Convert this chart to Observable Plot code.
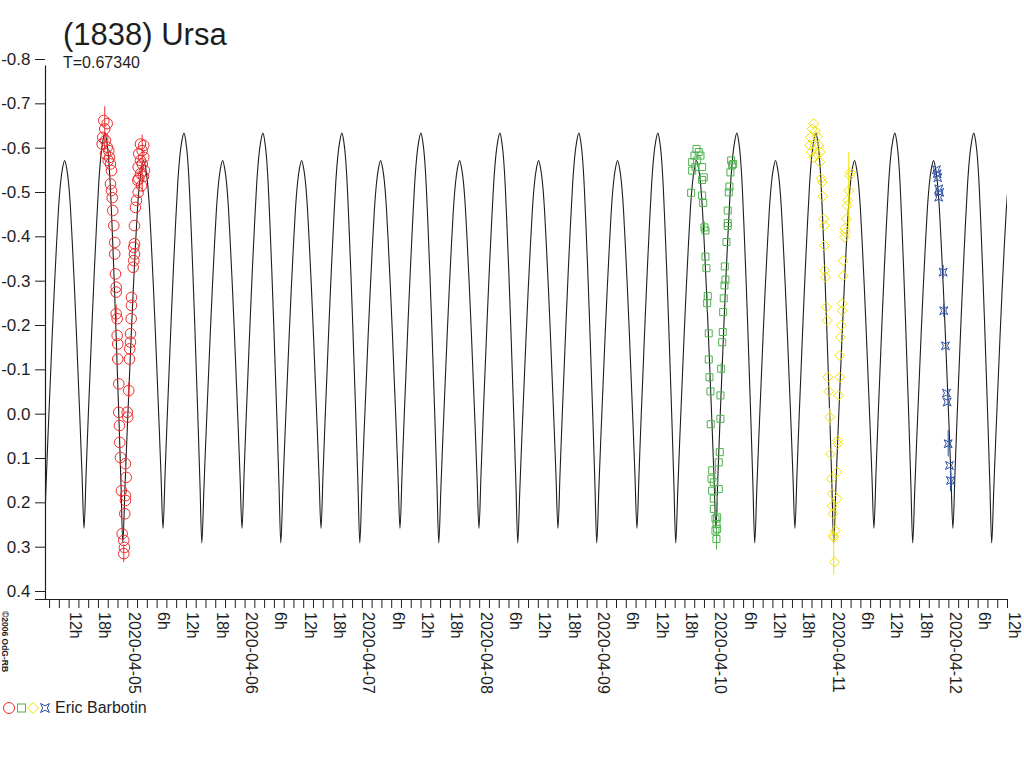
<!DOCTYPE html>
<html>
<head>
<meta charset="utf-8">
<script src="https://cdn.jsdelivr.net/npm/d3@7"></script>
<script src="https://cdn.jsdelivr.net/npm/@observablehq/plot@0.6"></script>
<style>
  html, body { margin: 0; padding: 0; background: #fff; overflow: hidden; }
  #wrap { position: relative; width: 1024px; height: 768px; overflow: hidden; font-family: "Liberation Sans", Arial, sans-serif; }
  #chart { position: absolute; left: 0; top: 0; }
  #overlay { position: absolute; left: 0; top: 0; pointer-events: none; }
</style>
</head>
<body>
<div id="wrap">
  <div id="chart"></div>
  <svg id="overlay" width="1024" height="768" font-family="Liberation Sans, Arial, sans-serif" fill="#1e1e1e">
    <text x="63" y="45" font-size="31">(1838) Ursa</text>
    <text x="63" y="68" font-size="16">T=0.67340</text>
    <text transform="translate(1.5,611) rotate(90)" font-size="8.5" font-weight="bold">©2006 OdG-RB</text>
    <circle cx="9" cy="708" r="5.5" fill="none" stroke="#ee2a2a"/>
    <rect x="17.5" y="704" width="8" height="8" fill="none" stroke="#4cb34c"/>
    <path d="M33,702.5 L38.5,708 L33,713.5 L27.5,708 Z" fill="none" stroke="#f2e200"/>
    <path d="M40.5,703.5 L45,705.8 L49.5,703.5 L47.3,708 L49.5,712.5 L45,710.2 L40.5,712.5 L42.7,708 Z" fill="none" stroke="#2b4fa8"/>
    <text x="55" y="713" font-size="16">Eric Barbotin</text>
  </svg>
</div>
<script>
// ---- model lightcurve (one period) ----
const T_PERIOD = 0.67340;                 // days
const EPOCH = "2020-04-04T19:20:00Z";      // a primary maximum of the model
const profilePhase = [0, 0.0226, 0.0452, 0.0678, 0.0904, 0.113, 0.1356, 0.1582, 0.1808, 0.2034,
  0.226, 0.2524, 0.2788, 0.3052, 0.3316, 0.358, 0.3844, 0.4108, 0.4372, 0.4636,
  0.490, 0.5145, 0.539, 0.5635, 0.588, 0.6125, 0.637, 0.6615, 0.686, 0.7105,
  0.735, 0.7615, 0.788, 0.8145, 0.841, 0.8675, 0.894, 0.9205, 0.947, 0.9735];
const profileMag = [-0.649, -0.631, -0.594, -0.529, -0.436, -0.334, -0.223, -0.103, 0.017, 0.147,
  0.276, 0.155, 0.034, -0.078, -0.190, -0.294, -0.389, -0.475, -0.535, -0.570,
  -0.587, -0.570, -0.537, -0.479, -0.396, -0.305, -0.205, -0.097, 0.011, 0.127,
  0.243, 0.118, -0.007, -0.123, -0.239, -0.346, -0.444, -0.533, -0.595, -0.631];

// ---- axes ----
const xStart = "2020-04-04T07:10:00Z";
const xEnd = "2020-04-12T12:00:00Z";
const yTicks = [-0.8, -0.7, -0.6, -0.5, -0.4, -0.3, -0.2, -0.1, 0.0, 0.1, 0.2, 0.3, 0.4];

// ---- observations: hours from the night's reference 0h UT, magnitude, error ----
const redDate = "2020-04-05";
const redHours = [-5.24,-5.12,-4.91,-4.71,-4.56,-4.21,-4.56,-4.21,-3.89,-4.01,
  -3.74,-3.54,-3.33,-3.54,-3.33,-3.19,-3.07,-2.86,-2.66,-2.66,
  -2.52,-2.37,-2.37,-2.37,-2.17,-2.17,-2.05,-2.05,-1.84,-1.84,
  -1.70,-1.64,-1.49,-1.29,-1.15,-0.82,-0.68,-0.82,-0.61,-0.47,
  -0.47,-0.33,-0.47,-0.12,0.00,0.20,0.35,0.41,0.55,0.55,
  0.70,0.76,0.76,1.10,1.23,1.37,1.23,1.37,1.37,1.58,
  1.78,2.13,2.05,2.25,2.60,2.13,2.95,2.60,3.27,2.25,
  2.95,2.60,3.27,3.21,3.42,2.80];
const redMag = [-0.624,-0.639,-0.677,-0.658,-0.632,-0.670,-0.602,-0.617,-0.609,-0.587,
  -0.594,-0.579,-0.564,-0.534,-0.519,-0.503,-0.474,-0.440,-0.402,-0.376,
  -0.331,-0.301,-0.290,-0.241,-0.230,-0.192,-0.173,-0.139,-0.083,-0.019,
  0.011,0.049,0.083,0.158,0.255,0.270,0.286,0.300,0.210,0.180,
  0.169,0.128,0.097,-0.019,-0.008,-0.068,-0.139,-0.162,-0.177,-0.196,
  -0.230,-0.260,-0.278,-0.346,-0.361,-0.376,-0.391,-0.399,-0.440,-0.481,
  -0.497,-0.515,-0.542,-0.546,-0.557,-0.572,-0.579,-0.587,-0.594,-0.602,
  -0.609,-0.624,-0.621,-0.551,-0.564,-0.530];
const redErr = [0,0,0,0.05,0,0,0,0,0,0,
  0,0,0,0,0,0,0,0,0,0,
  0,0,0,0.02,0,0,0,0,0,0,
  0,0,0,0,0,0,0,0.02,0,0,
  0,0,0.02,0,0,0.018,0,0,0,0,
  0,0,0,0,0,0,0,0,0,0,
  0,0,0,0,0,0,0.065,0,0,0,
  0,0,0,0,0,0];

const greenDate = "2020-04-10";
const greenHours = [-3.64,-3.17,-4.05,-2.82,-4.52,-3.50,-3.85,-2.48,-4.52,-2.15,
  -2.48,-4.73,-2.48,-2.27,-2.01,-1.80,-1.80,-1.60,-1.33,-1.45,
  -1.13,-1.13,-0.98,-0.78,-0.72,-0.43,-0.57,-0.10,-0.43,-0.10,
  -0.10,0.25,0.45,0.59,0.45,0.25,0.59,0.92,0.92,1.13,
  1.27,1.27,1.41,1.62,1.74,1.82,1.94,2.09,2.29,2.15,
  2.50,2.76,2.76,2.76,2.97,3.11,3.31,3.66,3.46,3.87];
const greenMag = [-0.613,-0.606,-0.598,-0.598,-0.583,-0.587,-0.572,-0.572,-0.564,-0.549,
  -0.543,-0.514,-0.508,-0.491,-0.436,-0.429,-0.370,-0.344,-0.281,-0.265,
  -0.197,-0.138,-0.098,-0.066,0.008,0.112,0.131,0.139,0.158,0.176,
  0.199,0.221,0.233,0.244,0.267,0.248,0.218,0.154,0.094,0.071,
  -0.004,-0.057,-0.117,-0.177,-0.200,-0.245,-0.276,-0.305,-0.318,-0.348,
  -0.403,-0.439,-0.446,-0.474,-0.515,-0.528,-0.560,-0.576,-0.587,-0.579];
const greenErr = [0,0,0,0,0,0,0,0,0,0,
  0,0,0,0,0.012,0,0,0,0,0.02,
  0,0,0.012,0,0,0,0,0,0,0,
  0,0,0,0,0.025,0,0,0,0,0,
  0,0,0.012,0,0,0,0,0,0,0,
  0,0,0,0,0,0,0,0,0,0];

const yellowDate = "2020-04-11";
const yellowHours = [-3.64,-3.97,-3.29,-4.32,-2.95,-4.46,-3.50,-2.62,-4.17,-3.09,
  -2.27,-3.64,-2.41,-2.13,-1.92,-1.80,-1.60,-1.45,-1.45,-1.39,
  -1.25,-1.04,-0.90,-0.78,-0.57,-0.37,-0.23,-0.08,0.12,0.12,
  0.33,0.33,0.45,0.59,0.80,1.15,1.15,1.27,1.27,1.47,
  1.68,1.68,1.82,1.97,2.17,2.17,2.37,2.37,2.64,2.84,
  2.70,3.05,3.19,3.31,3.52,3.72,3.87];
const yellowMag = [-0.670,-0.658,-0.653,-0.639,-0.641,-0.621,-0.621,-0.621,-0.606,-0.602,
  -0.606,-0.594,-0.583,-0.546,-0.538,-0.506,-0.455,-0.440,-0.395,-0.339,
  -0.324,-0.256,-0.226,-0.098,-0.066,-0.008,0.075,0.131,0.165,0.192,
  0.210,0.259,0.263,0.319,0.248,0.176,0.116,0.052,0.045,-0.057,
  -0.098,-0.147,-0.188,-0.215,-0.248,-0.264,-0.327,-0.361,-0.414,-0.425,
  -0.433,-0.455,-0.485,-0.497,-0.519,-0.553,-0.560];
const yellowErr = [0,0,0,0,0,0,0,0,0,0,
  0,0,0,0,0,0,0,0,0,0,
  0,0,0,0,0,0.02,0,0,0,0,
  0,0,0.085,0,0,0,0,0,0,0,
  0,0,0,0,0,0,0,0,0,0,
  0,0,0,0,0.085,0,0];

const blueDate = "2020-04-12";
const blueHours = [-2.54,-2.39,-2.27,-2.07,-1.86,-2.07,-1.17,-1.04,-0.70,-0.49,-0.35,-0.14,0.12,0.33];
const blueMag = [-0.566,-0.557,-0.548,-0.523,-0.515,-0.504,-0.335,-0.248,-0.169,-0.062,-0.042,0.052,0.101,0.135];
const blueErr = [0,0,0,0,0,0,0.015,0.015,0,0,0,0.03,0,0.025];

// ---- styling ----
const INK = "#1e1e1e";
const RED = "#ee2a2a", GREEN = "#4cb34c", YELLOW = "#f2e200", BLUE = "#2b4fa8";

// ---- build tables ----
const DAY = 864e5;
const t0 = Date.parse(EPOCH);
const dStart = new Date(xStart), dEnd = new Date(xEnd);
const curve = [];
for (let k = -2; k <= 13; k++) {
  for (let i = 0; i < profilePhase.length; i++) {
    const t = t0 + (k + profilePhase[i]) * T_PERIOD * DAY;
    if (t >= +dStart - 0.1 * DAY && t <= +dEnd + 0.1 * DAY) curve.push({t: new Date(t), m: profileMag[i]});
  }
}
function night(date, hours, mags, errs) {
  const base = Date.parse(date + "T00:00:00Z");
  return hours.map((h, i) => ({t: new Date(base + h * 36e5), m: mags[i], e: errs[i]}));
}
const red = night(redDate, redHours, redMag, redErr);
const green = night(greenDate, greenHours, greenMag, greenErr);
const yellow = night(yellowDate, yellowHours, yellowMag, yellowErr);
const blue = night(blueDate, blueHours, blueMag, blueErr);

const starSym = {
  draw(ctx, size) {
    const s = Math.sqrt(size) / 2, i = s * 0.5;
    ctx.moveTo(-s, -s); ctx.lineTo(0, -i); ctx.lineTo(s, -s); ctx.lineTo(i, 0);
    ctx.lineTo(s, s); ctx.lineTo(0, i); ctx.lineTo(-s, s); ctx.lineTo(-i, 0); ctx.closePath();
  }
};

const labelTicks = d3.utcHour.every(6).range(dStart, new Date(+dEnd + 1));
const fmtLabel = d => d.getUTCHours() === 0 ? d3.utcFormat("%Y-%m-%d")(d) : d.getUTCHours() + "h";

function errBars(data, color) {
  return Plot.ruleX(data.filter(d => d.e > 0), {x: "t", y1: d => d.m - d.e, y2: d => d.m + d.e, stroke: color, strokeWidth: 1});
}

const chart = Plot.plot({
  width: 1024,
  height: 768,
  marginTop: 65.5,
  marginBottom: 169,
  marginLeft: 45,
  marginRight: 17,
  style: {fontFamily: '"Liberation Sans", Arial, sans-serif', color: INK, background: "white", overflow: "visible"},
  x: {type: "utc", domain: [dStart, dEnd], label: null},
  y: {domain: [-0.8, 0.4], reverse: true, insetBottom: 1.5, label: null},
  marks: [
    Plot.line(curve, {x: "t", y: "m", stroke: INK, strokeWidth: 1.1, curve: "monotone-x", clip: true}),
    errBars(red, RED),
    Plot.dot(red, {x: "t", y: "m", symbol: "circle", r: 5.3, stroke: RED, fill: "none", strokeWidth: 1}),
    errBars(green, GREEN),
    Plot.dot(green, {x: "t", y: "m", symbol: "square", r: 3.95, stroke: GREEN, fill: "none", strokeWidth: 1}),
    errBars(yellow, YELLOW),
    Plot.dot(yellow, {x: "t", y: "m", symbol: "diamond2", r: 4.5, stroke: YELLOW, fill: "none", strokeWidth: 1}),
    errBars(blue, BLUE),
    Plot.dot(blue, {x: "t", y: "m", symbol: starSym, r: 4.5, stroke: BLUE, fill: "none", strokeWidth: 1}),
    // y axis
    Plot.ruleX([dStart], {stroke: INK, strokeWidth: 1.2}),
    Plot.axisY({ticks: yTicks, tickSize: 10, tickPadding: 5, tickFormat: d => d.toFixed(1), fontSize: 17, dy: -6.5, stroke: INK, fill: INK}),
    // x axis
    Plot.ruleY([0.4], {dy: 1.5, insetLeft: -10, insetRight: -1, stroke: INK, strokeWidth: 1.2}),
    Plot.axisX({ticks: d3.utcHour.every(2), tickSize: 9, tickFormat: () => "", stroke: INK}),
    Plot.text(labelTicks, {x: d => d, text: fmtLabel, frameAnchor: "bottom", rotate: 90, textAnchor: "start",
      lineAnchor: "bottom", dx: 1, dy: 12.5, fontSize: 16, fill: INK})
  ]
});
document.getElementById("chart").appendChild(chart);
</script>
</body>
</html>
